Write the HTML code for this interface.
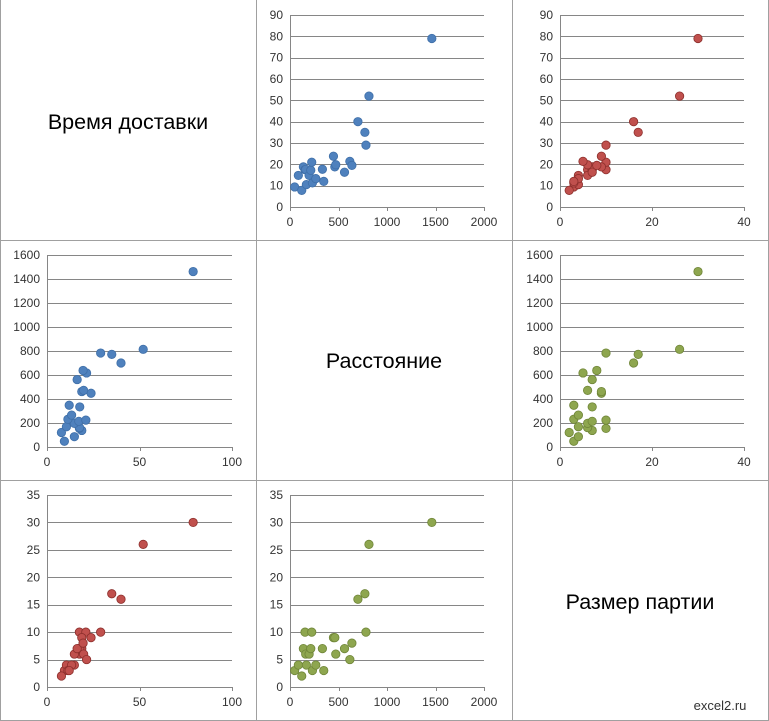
<!DOCTYPE html>
<html><head><meta charset="utf-8"><style>
body{margin:0;background:#fff}
svg{display:block;font-family:"Liberation Sans",sans-serif}
</style></head><body>
<svg id="m" width="769" height="721" viewBox="0 0 769 721" xmlns="http://www.w3.org/2000/svg">
<rect x="0" y="0" width="769" height="721" fill="#fff"/>
<g stroke="#a0a0a0" stroke-width="1" fill="none">
<line x1="0.5" y1="0" x2="0.5" y2="721"/><line x1="256.5" y1="0" x2="256.5" y2="721"/><line x1="512.5" y1="0" x2="512.5" y2="721"/><line x1="768.5" y1="0" x2="768.5" y2="721"/>
<line x1="0" y1="240.5" x2="769" y2="240.5"/><line x1="0" y1="480.5" x2="769" y2="480.5"/><line x1="0" y1="720.5" x2="769" y2="720.5"/>
</g>
<text x="128" y="129" font-size="21.5" text-anchor="middle" fill="#000">Время доставки</text>
<text x="384" y="368" font-size="21.5" text-anchor="middle" fill="#000">Расстояние</text>
<text x="640" y="609" font-size="21.5" text-anchor="middle" fill="#000">Размер партии</text>
<text x="720" y="710" font-size="13" text-anchor="middle" fill="#333">excel2.ru</text>
</svg>
<script>
const distance=[48,86,121,138,155,162,169,197,214,224,231,266,334,348,448,462,472,562,617,638,700,772,783,814,1462];
const deliveryTime=[9.4,14.8,7.8,18.8,17.5,17.6,10.5,14.8,17.2,21,11.3,13.3,17.7,12,23.8,18.8,19.8,16.3,21.4,19.5,40,35,29,52,79];
const lotSize=[3,4,2,7,10,6,4,6,7,10,3,4,7,3,9,9,6,7,5,8,16,17,10,26,30];
const timeTicks=[0,50,100];
const distTicks=[0,500,1000,1500,2000];
const lotTicks=[0,20,40];
const timeYTicks=[0,10,20,30,40,50,60,70,80,90];
const distYTicks=[0,200,400,600,800,1000,1200,1400,1600];
const lotYTicks=[0,5,10,15,20,25,30,35];
const NS='http://www.w3.org/2000/svg';
const svg=document.getElementById('m');
function mk(t,a,p){const e=document.createElementNS(NS,t);for(const k in a)e.setAttribute(k,a[k]);p.appendChild(e);return e;}
function panel(name,x0,x1,y0,y1,xs,ys,xt,yt,fill,stroke){
 const g=mk('g',{},svg);
 
 
 const xmax=xt[xt.length-1],ymax=yt[yt.length-1];
 const sx=v=>x0+(x1-x0)*v/xmax, sy=v=>y0-(y0-y1)*v/ymax;
 yt.forEach(v=>{
  const l=mk('line',{x1:x0,x2:x1,y1:Math.round(sy(v))+0.5,y2:Math.round(sy(v))+0.5,stroke:'#868686','stroke-width':1},g);
  
  
  const t=mk('text',{x:x0-7,y:sy(v)+4,'font-size':12,'text-anchor':'end',fill:'#333'},g);t.textContent=v;
  
  
 });
 const ax=mk('line',{x1:x0+0.5,x2:x0+0.5,y1:y1,y2:y0,stroke:'#868686'},g);
 
 
 xt.forEach(v=>{
  const t=mk('text',{x:sx(v),y:y0+19,'font-size':12,'text-anchor':'middle',fill:'#333'},g);t.textContent=v;
  
  
  const tk=mk('line',{x1:Math.round(sx(v))+0.5,x2:Math.round(sx(v))+0.5,y1:y0,y2:y0+4,stroke:'#868686'},g);
  
  
 });
 xs.forEach((v,i)=>{
  const c=mk('circle',{cx:sx(v),cy:sy(ys[i]),r:4.2,fill:fill,stroke:stroke,'stroke-width':0.8},g);
  
  
 });
}
const B='#4f81bd',BS='#3f6fa8',R='#c0504d',RS='#8c2f2c',G='#8ea64f',GS='#6f8538';
panel('plot-time-vs-distance',290,484,207,15,distance,deliveryTime,distTicks,timeYTicks,B,BS);
panel('plot-time-vs-lot',560,744,207,15,lotSize,deliveryTime,lotTicks,timeYTicks,R,RS);
panel('plot-distance-vs-time',47,232,447,255,deliveryTime,distance,timeTicks,distYTicks,B,BS);
panel('plot-distance-vs-lot',560,744,447,255,lotSize,distance,lotTicks,distYTicks,G,GS);
panel('plot-lot-vs-time',47,232,687,495,deliveryTime,lotSize,timeTicks,lotYTicks,R,RS);
panel('plot-lot-vs-distance',290,484,687,495,distance,lotSize,distTicks,lotYTicks,G,GS);
</script>
</body></html>
